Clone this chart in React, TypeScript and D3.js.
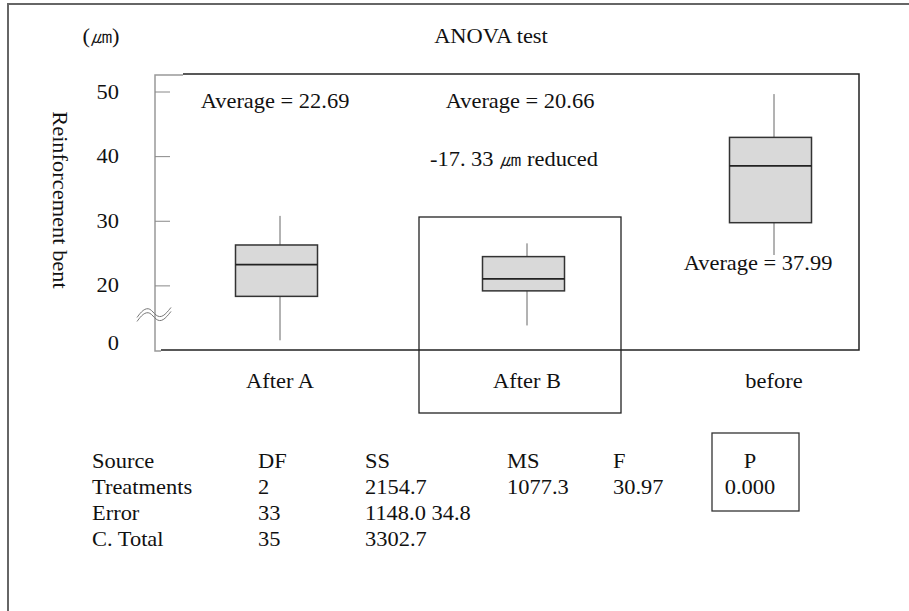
import React, { useEffect, useRef } from "react";
import * as d3 from "d3";

// box plot data (micrometres)
const categories = ["After A", "After B", "before"];
const whiskerLow = [11.5, 13.8, 24.7];
const q1 = [18.3, 19.15, 29.7];
const median = [23.2, 21.0, 38.5];
const q3 = [26.25, 24.45, 42.9];
const whiskerHigh = [30.75, 26.5, 49.6];
const averages = ["22.69", "20.66", "37.99"];
const yTicks = [20, 30, 40, 50];
const reducedLabel = "-17. 33 ㎛ reduced";

// ANOVA table
const tableColumns = ["Source", "DF", "SS", "MS", "F", "P"];
const tableRows = [
  ["Treatments", "2", "2154.7", "1077.3", "30.97", "0.000"],
  ["Error", "33", "1148.0 34.8", "", "", ""],
  ["C. Total", "35", "3302.7", "", "", ""],
];

const FONT = "'Liberation Serif', 'Times New Roman', serif";
const FS = 22;
const SX = 1.02; // text in the original is a touch wide

export default function App() {
  const svgRef = useRef<SVGSVGElement>(null);
  const width = 909;
  const height = 611;
  const plot = { left: 155, right: 859, top: 74, bottom: 350 };

  useEffect(() => {
    const svg = d3.select(svgRef.current);
    svg.selectAll("*").remove();

    const x = d3.scalePoint<string>().domain(categories).range([280, 774]);
    // broken axis: bottom of frame sits at 10
    const y = d3.scaleLinear().domain([10, 50]).range([plot.bottom, 91.5]);

    const addText = (
      g: any,
      str: string,
      tx: number,
      ty: number,
      anchor = "start"
    ) =>
      g
        .append("text")
        .attr("transform", `translate(${tx},${ty}) scale(${SX},1)`)
        .attr("text-anchor", anchor)
        .attr("font-family", FONT)
        .attr("font-size", FS)
        .attr("fill", "#111")
        .text(str);

    // outer frame (only top and left visible)
    svg
      .append("path")
      .attr("d", `M8,${height} L8,4 L${width},4`)
      .attr("fill", "none")
      .attr("stroke", "#666")
      .attr("stroke-width", 2);

    // title and units
    addText(svg, "ANOVA test", 491, 43, "middle");
    addText(svg, "(㎛)", 101, 43, "middle");

    // y axis title
    svg
      .append("text")
      .attr("transform", `translate(53,200) rotate(90) scale(${SX},1)`)
      .attr("text-anchor", "middle")
      .attr("font-family", FONT)
      .attr("font-size", FS)
      .attr("fill", "#111")
      .text("Reinforcement bent");

    // frame of the plot area
    svg
      .append("path")
      .attr(
        "d",
        `M183,${plot.top} L${plot.right},${plot.top} L${plot.right},${plot.bottom} L161,${plot.bottom}`
      )
      .attr("fill", "none")
      .attr("stroke", "#222")
      .attr("stroke-width", 1.5);
    svg
      .append("path")
      .attr(
        "d",
        `M183,${plot.top + 1} L${plot.left},${plot.top + 1} L${plot.left},${plot.bottom + 1} L161,${plot.bottom + 1}`
      )
      .attr("fill", "none")
      .attr("stroke", "#999")
      .attr("stroke-width", 1.5);

    // y ticks (drawn inward)
    const yAxis = d3
      .axisRight(y)
      .tickValues(yTicks)
      .tickSize(15)
      .tickFormat(() => "");
    const yg = svg
      .append("g")
      .attr("transform", `translate(${plot.left},0)`)
      .call(yAxis);
    yg.select(".domain").remove();
    yg.selectAll("line").attr("stroke", "#888").attr("stroke-width", 1);

    yTicks.forEach((t) => {
      addText(svg, String(t), 119, y(t) + 7, "end");
    });
    addText(svg, "0", 119, y(10) + 0, "end");

    // axis break mark
    const wave = d3
      .line<[number, number]>()
      .curve(d3.curveBasis);
    [0, 4].forEach((off) => {
      const cy = y(15.5) + off - 2;
      svg
        .append("path")
        .attr(
          "d",
          wave([
            [137, cy + 5],
            [143, cy - 3],
            [150, cy - 5],
            [156, cy + 4],
            [163, cy + 5],
            [171, cy - 5],
          ])
        )
        .attr("fill", "none")
        .attr("stroke", "#777")
        .attr("stroke-width", 1);
    });

    // box plots
    const boxW = 82;
    const shift = 3.5;
    categories.forEach((c, i) => {
      const cx = x(c) as number;
      const g = svg.append("g");
      g.append("line")
        .attr("x1", cx)
        .attr("x2", cx)
        .attr("y1", y(whiskerHigh[i]))
        .attr("y2", y(q3[i]))
        .attr("stroke", "#666")
        .attr("stroke-width", 1);
      g.append("line")
        .attr("x1", cx)
        .attr("x2", cx)
        .attr("y1", y(q1[i]))
        .attr("y2", y(whiskerLow[i]))
        .attr("stroke", "#666")
        .attr("stroke-width", 1);
      g.append("rect")
        .attr("x", cx - shift - boxW / 2)
        .attr("y", y(q3[i]))
        .attr("width", boxW)
        .attr("height", y(q1[i]) - y(q3[i]))
        .attr("fill", "#d9d9d9")
        .attr("stroke", "#333")
        .attr("stroke-width", 1.5);
      g.append("line")
        .attr("x1", cx - shift - boxW / 2)
        .attr("x2", cx - shift + boxW / 2)
        .attr("y1", y(median[i]))
        .attr("y2", y(median[i]))
        .attr("stroke", "#222")
        .attr("stroke-width", 1.8);

      addText(svg, c, cx, 388, "middle");
    });

    // averages and note
    const xa = x("After A") as number;
    const xb = x("After B") as number;
    const xc = x("before") as number;
    addText(svg, `Average = ${averages[0]}`, xa - 5, 108, "middle");
    addText(svg, `Average = ${averages[1]}`, xb - 7, 108, "middle");
    addText(svg, reducedLabel, xb - 13, 166, "middle");
    addText(svg, `Average = ${averages[2]}`, xc - 16, 270, "middle");

    // highlight around After B
    svg
      .append("rect")
      .attr("x", xb - 108)
      .attr("y", 217)
      .attr("width", 202)
      .attr("height", 196)
      .attr("fill", "none")
      .attr("stroke", "#222")
      .attr("stroke-width", 1.3);

    // ANOVA table
    const colX = [92, 258, 365, 507, 613, 750];
    const rowStep = 26.1;
    const top = 468;
    tableColumns.forEach((h, j) => {
      addText(svg, h, colX[j], top, j === 5 ? "middle" : "start");
    });
    tableRows.forEach((row, r) => {
      row.forEach((v, j) => {
        if (!v) return;
        addText(svg, v, colX[j], top + (r + 1) * rowStep, j === 5 ? "middle" : "start");
      });
    });
    // box around P column
    svg
      .append("rect")
      .attr("x", 712)
      .attr("y", 433)
      .attr("width", 87)
      .attr("height", 78)
      .attr("fill", "none")
      .attr("stroke", "#333")
      .attr("stroke-width", 1.3);
  }, []);

  return (
    <svg
      ref={svgRef}
      width={width}
      height={height}
      style={{ position: "absolute", left: 0, top: 0, background: "#fff" }}
    ></svg>
  );
}
